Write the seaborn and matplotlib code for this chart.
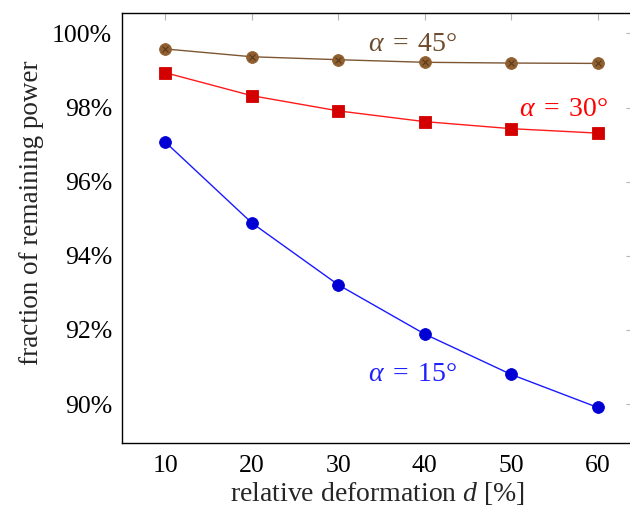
import numpy as np
import pandas as pd
import matplotlib
matplotlib.use("Agg")
import matplotlib.pyplot as plt
import seaborn as sns

# data
deformation = [10, 20, 30, 40, 50, 60]
power_45 = [99.58, 99.37, 99.29, 99.22, 99.20, 99.19]
power_30 = [98.94, 98.32, 97.91, 97.62, 97.43, 97.31]
power_15 = [97.07, 94.89, 93.22, 91.89, 90.80, 89.91]
y_ticks = [90, 92, 94, 96, 98, 100]
y_tick_labels = ["90%", "92%", "94%", "96%", "98%", "100%"]
x_ticks = [10, 20, 30, 40, 50, 60]

df = pd.DataFrame({
    "d": deformation * 3,
    "power": power_45 + power_30 + power_15,
    "alpha": ["45"] * 6 + ["30"] * 6 + ["15"] * 6,
})

sns.set_style("white")
plt.rcParams["font.family"] = ["Liberation Serif", "DejaVu Serif"]
plt.rcParams["mathtext.fontset"] = "custom"
plt.rcParams["mathtext.rm"] = "Liberation Serif"
plt.rcParams["mathtext.it"] = "Liberation Serif:italic"

fig = plt.figure(figsize=(6.3, 5.17), dpi=100)
ax = fig.add_axes([122 / 630, 74 / 517, 511 / 630, 430 / 517])

# line colour, marker colour, marker, label text colour
styles = {
    "45": ("#7d5634", "#8f5f30", "o", "#6e4c2c"),
    "30": ("#ff1a1a", "#d40000", "s", "#ff0000"),
    "15": ("#1a1aff", "#0000d4", "o", "#1f1fff"),
}

for key, (lc, mc, mk, tc) in styles.items():
    sub = df[df["alpha"] == key]
    sns.lineplot(data=sub, x="d", y="power", ax=ax, color=lc, lw=1.0,
                 marker=mk, markersize=8.5 if mk == "o" else 8,
                 markerfacecolor=mc, markeredgecolor=mc, markeredgewidth=0.6)
    if key == "45":
        ax.plot(sub["d"], sub["power"], ls="none", marker="x",
                markersize=5, color="#5a3a1c", markeredgewidth=0.8)

ax.text(38.6, 99.69, r"$\alpha\;=\;45°$", color=styles["45"][3],
        fontsize=20, ha="center", va="center")
ax.text(56.1, 97.94, r"$\alpha\;=\;30°$", color=styles["30"][3],
        fontsize=20, ha="center", va="center")
ax.text(38.6, 90.80, r"$\alpha\;=\;15°$", color=styles["15"][3],
        fontsize=20, ha="center", va="center")

ax.set_xlim(5, 64.1)
ax.set_ylim(88.95, 100.55)
ax.set_xticks(x_ticks)
ax.set_yticks(y_ticks)
ax.set_yticklabels(y_tick_labels)
ax.tick_params(direction="in", length=5, width=0.8, color="#b5b5b5",
               labelsize=18.5, top=True, right=True, pad=7, labelcolor="black")
ax.tick_params(axis="x", pad=9)
for s in ax.spines.values():
    s.set_color("black")
    s.set_linewidth(1.0)

ax.set_xlabel("relative deformation $d$ [%]", fontsize=20, labelpad=2)
ax.set_ylabel("fraction of remaining power", fontsize=19.5)
ax.yaxis.set_label_coords(-0.153, 0.535)

fig.savefig("out.png", dpi=100)
